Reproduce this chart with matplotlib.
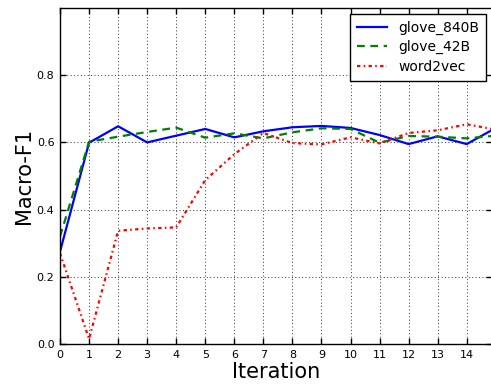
import matplotlib
matplotlib.use("Agg")
import matplotlib.pyplot as plt

iterations = list(range(16))
glove_840B = [0.275, 0.599, 0.648, 0.600, 0.620, 0.640, 0.615, 0.633, 0.645, 0.649,
              0.643, 0.622, 0.595, 0.618, 0.595, 0.643]
glove_42B = [0.32, 0.602, 0.617, 0.631, 0.644, 0.614, 0.627, 0.612, 0.630, 0.642,
             0.640, 0.599, 0.619, 0.617, 0.612, 0.620]
word2vec = [0.27, 0.015, 0.337, 0.344, 0.347, 0.488, 0.565, 0.628, 0.598, 0.594,
            0.615, 0.597, 0.628, 0.636, 0.654, 0.638]

xticks = list(range(15))
yticks = [0.0, 0.2, 0.4, 0.6, 0.8]

fig = plt.figure(figsize=(4.91, 3.85), dpi=100)
ax = fig.add_axes([60 / 491, 1 - 344 / 385, 1 - 60 / 491 + 0.002, 336 / 385])

ax.plot(iterations, glove_840B, color="#0000ff", lw=1.6, ls="-", label="glove_840B")
ax.plot(iterations, glove_42B, color="#008000", lw=1.6, ls="--", dashes=(3.5, 2.5), label="glove_42B")
ax.plot(iterations, word2vec, color="#ff0000", lw=1.6, ls="-.", dashes=(1.5, 1.5, 0.7, 1.5), label="word2vec")

ax.set_xlim(0, 14.87)
ax.set_ylim(0, 1.0)
ax.set_xticks(xticks)
ax.set_yticks(yticks)
ax.set_xticklabels([str(t) for t in xticks])
ax.set_yticklabels(["%.1f" % t for t in yticks])
ax.tick_params(direction="in", length=4, width=1, labelsize=8, top=True, right=True, pad=4)
ax.grid(True, color="#333333", linestyle=(0, (1, 2.5)), linewidth=0.7)
for s in ax.spines.values():
    s.set_linewidth(1)
    s.set_color("black")

ax.set_xlabel("Iteration", fontsize=15, labelpad=2)
ax.set_ylabel("Macro-F1", fontsize=15, labelpad=2)

leg = ax.legend(loc="upper right", fontsize=10, fancybox=False, framealpha=1,
                edgecolor="black", borderpad=0.5, handlelength=2.2, labelspacing=0.4,
                borderaxespad=0.4)
leg.get_frame().set_linewidth(1)

fig.savefig("out.png", dpi=100)
